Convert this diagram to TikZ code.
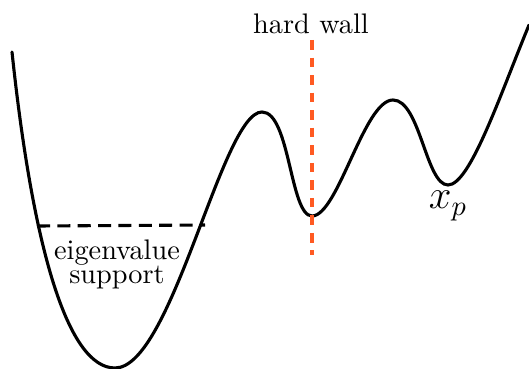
\documentclass[tikz,border=0pt]{standalone}
\usepackage{tikz}
\usetikzlibrary{positioning}
\definecolor{WallOrange}{HTML}{FF5A22}
\tikzset{
  potential/.style={line width=1.1pt, line cap=round},
  supportline/.style={line width=1.1pt, dash pattern=on 4.6pt off 2.6pt},
  wallline/.style={WallOrange, line width=1.1pt, dash pattern=on 3.4pt off 2.8pt},
}
\begin{document}
\begin{tikzpicture}[x=0.3535pt, y=-0.3535pt]
\useasboundingbox (0,0) rectangle (529,369);
% landmarks on the potential
\coordinate (start) at (12,52);
\coordinate (wellmin) at (115,368);
\coordinate (max1) at (262,112);
\coordinate (wallmin) at (312,216);
\coordinate (max2) at (393,100);
\coordinate (pmin) at (448,185);
\coordinate (finish) at (529,25);
\coordinate (suppL) at (37,226);
\coordinate (suppR) at (205,225);
\coordinate (wallTop) at (312,40);
\coordinate (wallBot) at (312,255);
% potential curve
\draw[potential] (start) .. controls (33,250) and (68,368) .. (wellmin)
   .. controls (172,368) and (222,112) .. (max1)
   .. controls (290,112) and (290,216) .. (wallmin)
   .. controls (338,216) and (364,100) .. (max2)
   .. controls (420,100) and (426,185) .. (pmin)
   .. controls (470,185) and (500,95) .. (finish);
% eigenvalue support and hard wall
\draw[supportline] (suppL) -- (suppR);
\draw[wallline] (wallTop) -- (wallBot);
% labels
\node (wallLabel) at (311,24) {hard wall};
\node[align=center, font=\fontsize{10pt}{8.5pt}\selectfont] (suppLabel) at (117,264) {eigenvalue\\support};
\node[font=\Large] (xpLabel) at (448,206) {$x_p$};
\end{tikzpicture}
\end{document}
